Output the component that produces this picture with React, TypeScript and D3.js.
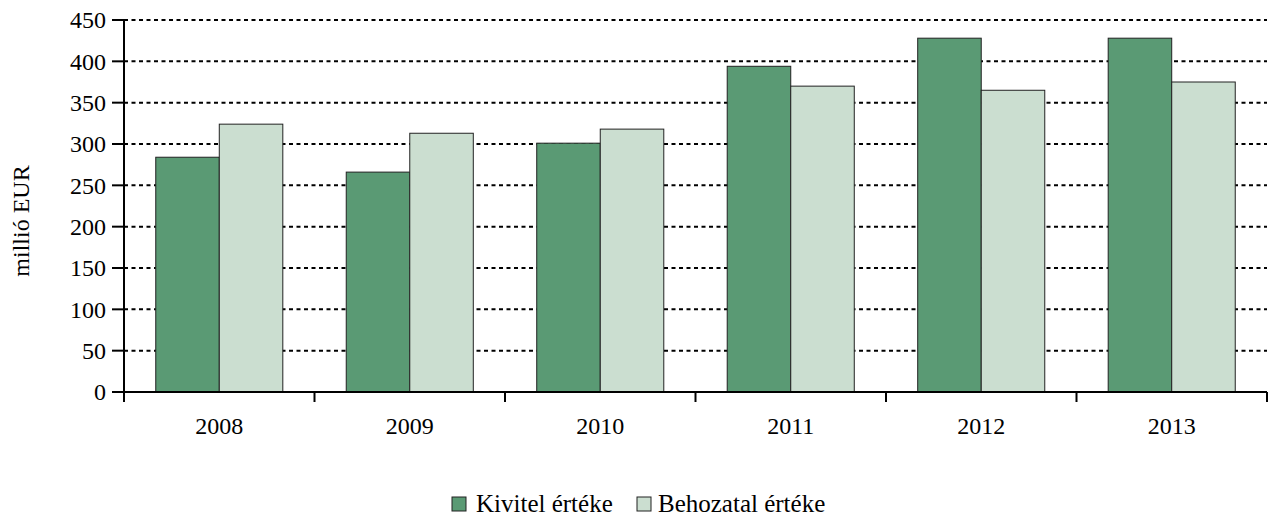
import React from "react";
import * as d3 from "d3";

const years = ["2008", "2009", "2010", "2011", "2012", "2013"];
const kivitel = [284, 266, 301, 394, 428, 428];
const behozatal = [324, 313, 318, 370, 365, 375];
const seriesNames = ["Kivitel értéke", "Behozatal értéke"];
const seriesColors = ["#5a9a74", "#cbded0"];
const yTicks = [0, 50, 100, 150, 200, 250, 300, 350, 400, 450];

const W = 1268;
const H = 517;
const left = 124;
const right = 1267;
const top = 20;
const bottom = 392;
const font = "Liberation Serif, Times New Roman, Times, serif";
const fs = 24;

export default function App() {
  const x = d3.scaleBand<string>().domain(years).range([left, right]).paddingInner(0.333).paddingOuter(0.1667);
  const x0 = d3.scaleBand<string>().domain(years).range([left, right]).padding(0);
  const inner = d3.scaleBand<number>().domain([0, 1]).range([0, x.bandwidth()]);
  const y = d3.scaleLinear().domain([0, 450]).range([bottom, top]);
  const series = [kivitel, behozatal];

  return (
    <svg width={W} height={H} style={{ position: "absolute", left: 0, top: 0, background: "#fff", fontFamily: font }}>
      {yTicks.map((t) => (
        <line key={"g" + t} x1={left} x2={right} y1={y(t)} y2={y(t)} stroke="#000" strokeWidth={2} strokeDasharray="4,3.5" />
      ))}
      {years.map((yr, i) =>
        series.map((s, k) => (
          <rect
            key={yr + k}
            x={(x(yr) as number) + (inner(k) as number)}
            y={y(s[i])}
            width={inner.bandwidth()}
            height={y(0) - y(s[i])}
            fill={seriesColors[k]}
            stroke="#222"
            strokeWidth={1}
          />
        ))
      )}
      <line x1={left} x2={left} y1={top} y2={bottom} stroke="#000" strokeWidth={2} />
      <line x1={left} x2={right} y1={bottom} y2={bottom} stroke="#000" strokeWidth={2} />
      {yTicks.map((t) => (
        <g key={"t" + t}>
          <line x1={left - 12} x2={left} y1={y(t)} y2={y(t)} stroke="#000" strokeWidth={2} />
          <text x={left - 18} y={y(t)} dy="0.35em" textAnchor="end" fontSize={fs}>
            {t}
          </text>
        </g>
      ))}
      {years.map((yr) => (
        <line key={"xt" + yr} x1={x0(yr) as number} x2={x0(yr) as number} y1={bottom} y2={bottom + 10} stroke="#000" strokeWidth={2} />
      ))}
      <line x1={right} x2={right} y1={bottom} y2={bottom + 10} stroke="#000" strokeWidth={2} />
      {years.map((yr) => (
        <text key={"xl" + yr} x={(x0(yr) as number) + x0.bandwidth() / 2} y={434} textAnchor="middle" fontSize={fs}>
          {yr}
        </text>
      ))}
      <text transform={`translate(29,221) rotate(-90)`} textAnchor="middle" fontSize={fs}>
        millió EUR
      </text>
      <g>
        <rect x={452} y={497} width={14} height={14} fill={seriesColors[0]} stroke="#222" strokeWidth={1} />
        <text x={476} y={512} fontSize={25}>{seriesNames[0]}</text>
        <rect x={637} y={497} width={14} height={14} fill={seriesColors[1]} stroke="#222" strokeWidth={1} />
        <text x={658} y={512} fontSize={25}>{seriesNames[1]}</text>
      </g>
    </svg>
  );
}
